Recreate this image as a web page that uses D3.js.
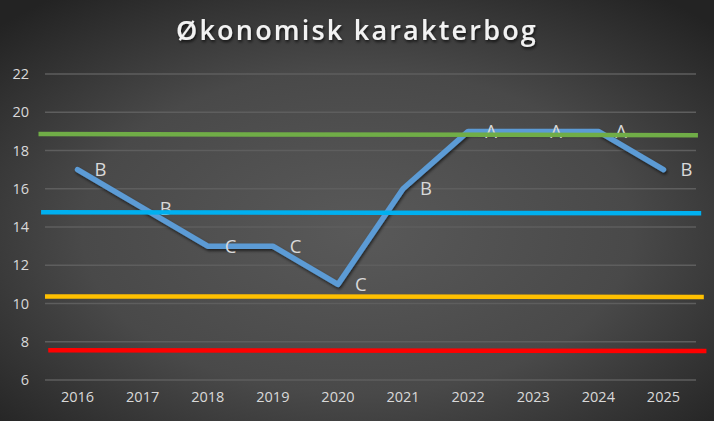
<!DOCTYPE html>
<html><head><meta charset="utf-8">
<script src="https://cdn.jsdelivr.net/npm/d3@7"></script>
<style>html,body{margin:0;padding:0;background:#333;}svg{display:block;}</style>
</head><body>
<svg id="c" width="714" height="421"></svg>
<script>
const years = ["2016","2017","2018","2019","2020","2021","2022","2023","2024","2025"];
const points = [17,15,13,13,11,16,19,19,19,17];
const grades = ["B","B","C","C","C","B","A","A","A","B"];
const yTicks = [6,8,10,12,14,16,18,20,22];
const refNames = ["A","B","C","D"];
const refColors = ["#70AD47","#00B0F0","#FFC000","#FF0000"];
const refStart = [18.86,14.77,10.37,7.55];
const refEnd = [18.8,14.72,10.34,7.52];
const refFromIdx = [-0.6,-0.56,-0.5,-0.45];
const refToIdx = [9.53,9.58,9.62,9.66];

const W=714,H=421;
const svg=d3.select("#c");
const defs=svg.append("defs");
const rg=defs.append("radialGradient").attr("id","bg").attr("cx","50%").attr("cy","55%").attr("r","70%");
rg.append("stop").attr("offset","0%").attr("stop-color","#595959");
rg.append("stop").attr("offset","55%").attr("stop-color","#494949");
rg.append("stop").attr("offset","100%").attr("stop-color","#232323");
const f=defs.append("filter").attr("id","sh").attr("x","-10%").attr("y","-10%").attr("width","120%").attr("height","130%");
f.append("feDropShadow").attr("dx",1).attr("dy",2).attr("stdDeviation",1.5).attr("flood-color","#000").attr("flood-opacity",0.6);
const ft=defs.append("filter").attr("id","tsh");
ft.append("feDropShadow").attr("dx",1).attr("dy",2).attr("stdDeviation",1.5).attr("flood-color","#000").attr("flood-opacity",0.7);

svg.append("rect").attr("width",W).attr("height",H).attr("fill","url(#bg)");

const x=d3.scaleBand().domain(years).range([45,696]);
const xi=d3.scaleLinear().domain([-0.5,9.5]).range([45,696]);
const y=d3.scaleLinear().domain([6,22]).range([380,74]);

// grid
svg.append("g").selectAll("line").data(yTicks).join("line")
 .attr("x1",45).attr("x2",696).attr("y1",d=>y(d)).attr("y2",d=>y(d))
 .attr("stroke","#5e5e5e").attr("stroke-width",1.3);

// axes
const ya=svg.append("g").attr("transform","translate(29,0)")
 .call(d3.axisLeft(y).tickValues(yTicks).tickSize(0).tickPadding(0));
ya.select(".domain").remove();
ya.selectAll("text").attr("fill","#d9d9d9").attr("font-size",14.5).attr("font-family","Open Sans, sans-serif");
const xa=svg.append("g").attr("transform","translate(0,392)")
 .call(d3.axisBottom(x).tickSize(0).tickPadding(0));
xa.select(".domain").remove();
xa.selectAll("text").attr("fill","#d9d9d9").attr("font-size",14.5).attr("font-family","Open Sans, sans-serif");

// main line
const line=d3.line().x((d,i)=>x(years[i])+x.bandwidth()/2).y(d=>y(d));
svg.append("path").datum(points).attr("d",line).attr("fill","none")
 .attr("stroke","#5B9BD5").attr("stroke-width",5.5).attr("stroke-linejoin","round").attr("stroke-linecap","round")
 .attr("filter","url(#sh)");

// labels
svg.append("g").selectAll("text").data(points).join("text")
 .attr("x",(d,i)=>x(years[i])+x.bandwidth()/2+17)
 .attr("y",d=>y(d)).attr("dy","0.36em")
 .attr("fill","#d9d9d9").attr("font-size",18.5).attr("font-family","Open Sans, sans-serif")
 .text((d,i)=>grades[i]);

// reference lines (drawn on top)
refNames.forEach((n,i)=>{
  svg.append("line").attr("x1",xi(refFromIdx[i])).attr("x2",xi(refToIdx[i]))
    .attr("y1",y(refStart[i])).attr("y2",y(refEnd[i]))
    .attr("stroke",refColors[i]).attr("stroke-width",4.5);
});

// title
svg.append("text").attr("x",357).attr("y",40).attr("text-anchor","middle")
 .attr("fill","#f2f2f2").attr("font-size",27).attr("font-weight",600).attr("letter-spacing",2.2)
 .attr("font-family","Open Sans, sans-serif").attr("filter","url(#tsh)")
 .text("Økonomisk karakterbog");
</script>
</body></html>
